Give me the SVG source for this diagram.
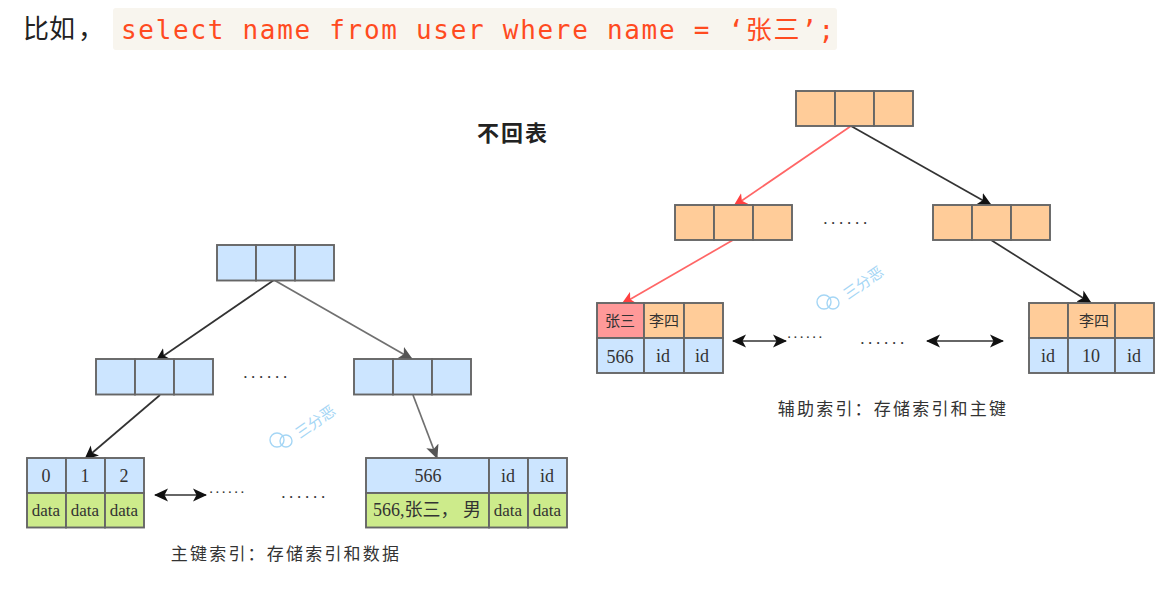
<svg xmlns="http://www.w3.org/2000/svg" width="1171" height="613" viewBox="0 0 1171 613">
<style>
.c{stroke:#666;stroke-width:1.9}
.b{fill:#cce5ff}.o{fill:#ffcc99}.g{fill:#cdeb8b}.r{fill:#ff9999}
text{font-family:"Liberation Serif","Noto Sans CJK SC",serif;fill:#333;text-anchor:middle}
.t{font-size:18px}.d{font-size:17px}.k{font-size:15px;font-family:"Noto Sans CJK SC",sans-serif}
.cap{font-size:17px;font-family:"Noto Sans CJK SC",sans-serif;letter-spacing:2.200px}
.dots{font-size:17px;letter-spacing:3.700px;fill:#333}
.dots2{font-size:15px;letter-spacing:2.500px;fill:#333}
.w{font-size:15px;fill:#a5d6f5;font-family:"Noto Sans CJK SC",sans-serif;text-anchor:start}
.l{fill:none;stroke:#333;stroke-width:1.700}
.red{stroke:#ff6666}.gr{stroke:#707070}
</style>
<defs>
<marker id="ak" markerWidth="15" markerHeight="14" refX="13" refY="7" orient="auto" markerUnits="userSpaceOnUse"><path d="M0 0.500L14 7L0 13.500L3.500 7Z" fill="#111"/></marker>
<marker id="akr" markerWidth="15" markerHeight="14" refX="1" refY="7" orient="auto" markerUnits="userSpaceOnUse"><path d="M14 0.500L0 7L14 13.500L10.500 7Z" fill="#111"/></marker>
<marker id="ag" markerWidth="15" markerHeight="14" refX="13" refY="7" orient="auto" markerUnits="userSpaceOnUse"><path d="M0 0.500L14 7L0 13.500L3.500 7Z" fill="#555"/></marker>
<marker id="ar" markerWidth="15" markerHeight="14" refX="13" refY="7" orient="auto" markerUnits="userSpaceOnUse"><path d="M0 0.500L14 7L0 13.500L3.500 7Z" fill="#ff4040"/></marker>
</defs>

<g id="intro">
<text x="23" y="38" style="font-size:26px;font-family:'Noto Sans CJK SC',sans-serif;fill:#222;text-anchor:start">比如<tspan dx="3">，</tspan></text>
<rect x="113" y="8" width="724" height="42" rx="3" fill="#f8f5ee"/>
<text x="121" y="39" style="font-size:26px;letter-spacing:1.700px;font-family:'DejaVu Sans Mono','Noto Sans CJK SC',monospace;fill:#ff4b1f;text-anchor:start">select name from user where name = ‘<tspan font-family="Noto Sans CJK SC">张三</tspan>’;</text>
</g>
<g id="title"><text x="513" y="141" style="font-size:22px;letter-spacing:2px;font-weight:700;font-family:'Noto Sans CJK SC',sans-serif;fill:#222">不回表</text></g>

<g id="connectors">
<path class="l" d="M274 280L156 361" marker-end="url(#ak)"/>
<path class="l gr" d="M274 280L412 359" marker-end="url(#ag)"/>
<path class="l" d="M160 395L85 459" marker-end="url(#ak)"/>
<path class="l gr" d="M413 395L437 458" marker-end="url(#ag)"/>
<path class="l" d="M155 495H206" marker-start="url(#akr)" marker-end="url(#ak)"/>
<path class="l red" d="M851 126L734 206" marker-end="url(#ar)"/>
<path class="l" d="M851 126L991 205" marker-end="url(#ak)"/>
<path class="l red" d="M733 240L622 304" marker-end="url(#ar)"/>
<path class="l" d="M991 240L1091 303" marker-end="url(#ak)"/>
<path class="l" d="M733 341H786" marker-start="url(#akr)" marker-end="url(#ak)"/>
<path class="l" d="M927 341H1003" marker-start="url(#akr)" marker-end="url(#ak)"/>
</g>

<g id="blue-root"><rect class="c b" x="217" y="245" width="39" height="35.500"/><rect class="c b" x="256" y="245" width="39" height="35.500"/><rect class="c b" x="295" y="245" width="39" height="35.500"/></g>
<g id="blue-left"><rect class="c b" x="96" y="359" width="39" height="35.500"/><rect class="c b" x="135" y="359" width="39" height="35.500"/><rect class="c b" x="174" y="359" width="39" height="35.500"/></g>
<g id="blue-right"><rect class="c b" x="354" y="359" width="39" height="35.500"/><rect class="c b" x="393" y="359" width="39" height="35.500"/><rect class="c b" x="432" y="359" width="39" height="35.500"/></g>

<g id="primary-leaf-left">
<rect class="c b" x="27" y="458" width="39" height="35"/><rect class="c b" x="66" y="458" width="39" height="35"/><rect class="c b" x="105" y="458" width="39" height="35"/>
<rect class="c g" x="27" y="493" width="39" height="34.500"/><rect class="c g" x="66" y="493" width="39" height="34.500"/><rect class="c g" x="105" y="493" width="39" height="34.500"/>
<text class="t" x="46" y="482">0</text><text class="t" x="85" y="482">1</text><text class="t" x="124" y="482">2</text>
<text class="d" x="46" y="516">data</text><text class="d" x="85" y="516">data</text><text class="d" x="124" y="516">data</text>
</g>
<g id="primary-leaf-right">
<rect class="c b" x="366" y="458" width="123" height="35"/><rect class="c b" x="489" y="458" width="39" height="35"/><rect class="c b" x="528" y="458" width="39" height="35"/>
<rect class="c g" x="366" y="493" width="123" height="34.500"/><rect class="c g" x="489" y="493" width="39" height="34.500"/><rect class="c g" x="528" y="493" width="39" height="34.500"/>
<text class="t" x="428" y="482">566</text><text class="t" x="508" y="482">id</text><text class="t" x="547" y="482">id</text>
<text class="t" x="427" y="516">566,张三， 男</text><text class="d" x="508" y="516">data</text><text class="d" x="547" y="516">data</text>
</g>

<g id="orange-root"><rect class="c o" x="796" y="91" width="39" height="35"/><rect class="c o" x="835" y="91" width="39" height="35"/><rect class="c o" x="874" y="91" width="39" height="35"/></g>
<g id="orange-left"><rect class="c o" x="675" y="205" width="39" height="35"/><rect class="c o" x="714" y="205" width="39" height="35"/><rect class="c o" x="753" y="205" width="39" height="35"/></g>
<g id="orange-right"><rect class="c o" x="933" y="205" width="39" height="35"/><rect class="c o" x="972" y="205" width="39" height="35"/><rect class="c o" x="1011" y="205" width="39" height="35"/></g>

<g id="secondary-leaf-left">
<rect class="c r" x="597" y="303" width="47" height="35"/><rect class="c o" x="644" y="303" width="40" height="35"/><rect class="c o" x="684" y="303" width="39" height="35"/>
<rect class="c b" x="597" y="338" width="47" height="35"/><rect class="c b" x="644" y="338" width="40" height="35"/><rect class="c b" x="684" y="338" width="39" height="35"/>
<text class="k" x="620" y="326">张三</text><text class="k" x="664" y="326">李四</text>
<text class="t" x="620" y="363">566</text><text class="t" x="663" y="362">id</text><text class="t" x="702" y="362">id</text>
</g>
<g id="secondary-leaf-right">
<rect class="c o" x="1029" y="303" width="39" height="35"/><rect class="c o" x="1068" y="303" width="47" height="35"/><rect class="c o" x="1115" y="303" width="39" height="35"/>
<rect class="c b" x="1029" y="338" width="39" height="35"/><rect class="c b" x="1068" y="338" width="47" height="35"/><rect class="c b" x="1115" y="338" width="39" height="35"/>
<text class="k" x="1094" y="326">李四</text>
<text class="t" x="1048" y="362">id</text><text class="t" x="1091" y="362">10</text><text class="t" x="1134" y="362">id</text>
</g>

<g id="dots">
<text class="dots" x="267" y="378">......</text>
<text class="dots2" x="228" y="493">......</text>
<text class="dots" x="305" y="498">......</text>
<text class="dots" x="847" y="224">......</text>
<text class="dots2" x="806" y="338">......</text>
<text class="dots" x="884" y="344">......</text>
</g>
<g id="captions">
<text class="cap" x="286" y="560">主键索引：存储索引和数据</text>
<text class="cap" x="893" y="415">辅助索引：存储索引和主键</text>
</g>
<g id="watermarks" fill="none" stroke="#a5d6f5" stroke-width="1.400">
<circle cx="277" cy="440" r="7"/><circle cx="286" cy="441" r="6"/>
<text class="w" stroke="none" transform="translate(300 439) rotate(-35)">三分恶</text>
<circle cx="824" cy="302" r="7"/><circle cx="833" cy="303" r="6"/>
<text class="w" stroke="none" transform="translate(848 300) rotate(-35)">三分恶</text>
</g>
</svg>
